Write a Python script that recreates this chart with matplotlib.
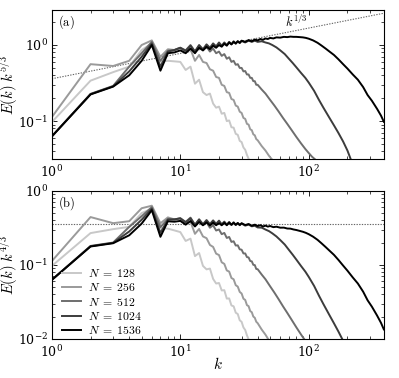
import numpy as np
import matplotlib
matplotlib.use("Agg")
import matplotlib.pyplot as plt
from matplotlib.ticker import NullFormatter

plt.rcParams['mathtext.fontset'] = 'cm'
plt.rcParams['font.family'] = ['DejaVu Serif']

# ---- data: compensated spectra E(k) k^{5/3} ----
labels = [r'$N\;=\;128$', r'$N\;=\;256$', r'$N\;=\;512$', r'$N\;=\;1024$', r'$N\;=\;1536$']
colors = ['#c8c8c8', '#9a9a9a', '#6e6e6e', '#3c3c3c', '#000000']

k128 = list(range(1, 35))
c128 = [0.097, 0.34, 0.44, 0.52, 0.86, 1.05, 0.60, 0.62, 0.61, 0.60,
        0.47, 0.52, 0.31, 0.35, 0.24, 0.22, 0.23, 0.17, 0.15, 0.155,
        0.125, 0.128, 0.10, 0.102, 0.083, 0.082, 0.068, 0.066, 0.055, 0.053,
        0.045, 0.042, 0.036, 0.032]

k256 = list(range(1, 41)) + [43, 46, 49, 52]
c256 = [0.113, 0.56, 0.53, 0.62, 1.00, 1.15, 0.70, 0.88, 0.86, 0.92,
        0.80, 0.88, 0.62, 0.74, 0.60, 0.58, 0.48, 0.46, 0.38, 0.37,
        0.30, 0.29, 0.24, 0.235, 0.195, 0.19, 0.16, 0.155, 0.133, 0.128,
        0.11, 0.107, 0.092, 0.09, 0.078, 0.076, 0.067, 0.065, 0.058, 0.056,
        0.047, 0.041, 0.035, 0.031]

k512 = list(range(1, 41)) + [43, 46, 50, 54, 58, 63, 68, 74, 80, 87, 94, 100, 106, 113]
c512 = [0.063, 0.228, 0.29, 0.52, 0.78, 1.10, 0.62, 0.84, 0.86, 0.92,
        0.85, 1.00, 0.82, 0.98, 0.85, 0.95, 0.82, 0.90, 0.78, 0.82,
        0.72, 0.76, 0.66, 0.69, 0.60, 0.62, 0.55, 0.56, 0.50, 0.50,
        0.45, 0.455, 0.41, 0.41, 0.37, 0.37, 0.335, 0.335, 0.30, 0.30,
        0.26, 0.23, 0.19, 0.16, 0.135, 0.11, 0.092, 0.075, 0.062, 0.051,
        0.043, 0.038, 0.034, 0.031]

k1024 = list(range(1, 31)) + [32, 34, 36, 38, 40, 43, 46, 49, 52, 56, 60, 65, 70,
                               75, 80, 87, 94, 100, 110, 120, 130, 145, 157,
                               170, 185, 200, 213]
c1024 = [0.063, 0.226, 0.287, 0.45, 0.70, 1.05, 0.52, 0.82, 0.86, 0.92,
         0.84, 0.98, 0.82, 1.00, 0.88, 1.02, 0.92, 1.05, 0.96, 1.08,
         0.98, 1.08, 1.00, 1.10, 1.02, 1.12, 1.04, 1.12, 1.06, 1.13,
         1.08, 1.14, 1.10, 1.14, 1.10, 1.12, 1.08, 1.05, 1.00, 0.93,
         0.85, 0.76, 0.66, 0.58, 0.51, 0.43, 0.37, 0.32, 0.25, 0.19,
         0.15, 0.11, 0.088, 0.07, 0.054, 0.041, 0.031]

k1536 = list(range(1, 31)) + [32, 34, 36, 38, 40, 42, 44, 46, 48, 50, 53, 56,
                               60, 64, 68, 72, 76, 80, 85, 90, 95, 100, 108,
                               117, 125, 135, 145, 157, 170, 185, 200, 220,
                               241, 265, 287, 310, 340, 365, 384]
c1536 = [0.063, 0.224, 0.284, 0.40, 0.62, 1.00, 0.46, 0.78, 0.80, 0.85,
         0.78, 0.90, 0.78, 0.92, 0.85, 0.95, 0.88, 0.98, 0.92, 1.00,
         0.95, 1.04, 0.98, 1.08, 1.02, 1.10, 1.05, 1.12, 1.07, 1.14,
         1.10, 1.16, 1.12, 1.18, 1.15, 1.20, 1.17, 1.22, 1.20, 1.24,
         1.22, 1.26, 1.25, 1.28, 1.27, 1.29, 1.28, 1.28, 1.27, 1.26,
         1.24, 1.21, 1.15, 1.07, 0.99, 0.90, 0.82, 0.74, 0.65, 0.56,
         0.49, 0.41, 0.35, 0.28, 0.22, 0.185, 0.145, 0.118, 0.098]

series_k = [k128, k256, k512, k1024, k1536]
series_c = [c128, c256, c512, c1024, c1536]

ref_coef = 0.36   # k^{1/3} reference line coefficient
k_ref = [1, 384]

fig = plt.figure(figsize=(3.99, 3.78), dpi=100)
ax1 = fig.add_axes([0.130, 0.579, 0.832, 0.3945])
ax2 = fig.add_axes([0.130, 0.1032, 0.832, 0.3915])

kr = np.array(k_ref, dtype=float)
ax1.plot(kr, ref_coef * kr ** (1 / 3), ls=(0, (1.2, 1.2)), color='#666666', lw=0.8, zorder=1)
ax2.plot(kr, [ref_coef, ref_coef], ls=(0, (1.2, 1.2)), color='#666666', lw=0.8, zorder=1)

for kk, cc, col, lab in zip(series_k, series_c, colors, labels):
    kk = np.array(kk, dtype=float)
    cc = np.array(cc, dtype=float)
    E = cc * kk ** (-5 / 3)
    ax1.plot(kk, E * kk ** (5 / 3), color=col, lw=1.4, zorder=2)
    ax2.plot(kk, E * kk ** (4 / 3), color=col, lw=1.4, zorder=2, label=lab)

for ax in (ax1, ax2):
    ax.set_xscale('log')
    ax.set_yscale('log')
    ax.set_xlim(1, 384)
    ax.tick_params(which='both', direction='in', top=True, right=True, labelsize=9)
    ax.tick_params(which='major', length=3.5, width=0.6)
    ax.tick_params(which='minor', length=2, width=0.5)
    ax.tick_params(axis='y', which='major', pad=3)
    ax.yaxis.set_minor_formatter(NullFormatter())
    for s in ax.spines.values():
        s.set_linewidth(0.8)

ax1.set_ylim(10 ** -1.5, 10 ** 0.46)
ax2.set_ylim(1e-2, 1)

ax1.set_ylabel(r'$E(k)\ k^{5/3}$', fontsize=10.5)
ax2.set_ylabel(r'$E(k)\ k^{4/3}$', fontsize=10.5)
ax1.yaxis.set_label_coords(-0.097, 0.5)
ax2.yaxis.set_label_coords(-0.097, 0.5)
ax2.set_xlabel(r'$k$', fontsize=11)
ax2.xaxis.set_label_coords(0.5, -0.115)

ax1.text(0.018, 0.92, r'$\mathrm{(a)}$', transform=ax1.transAxes, fontsize=9, va='center')
ax2.text(0.018, 0.92, r'$\mathrm{(b)}$', transform=ax2.transAxes, fontsize=9, va='center')
ax1.text(80, 2.0, r'$k^{1/3}$', fontsize=9, ha='center', va='center')

ax2.legend(loc='lower left', bbox_to_anchor=(0.005, -0.045), frameon=False, fontsize=8.5,
           handlelength=1.6, labelspacing=0.12, borderaxespad=0.3, handletextpad=0.6)

fig.savefig('out.png', dpi=100)
